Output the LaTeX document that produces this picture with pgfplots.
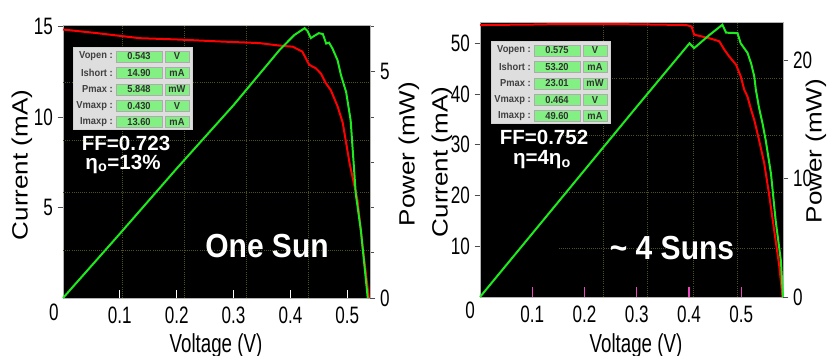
\documentclass[border=0pt]{standalone}
\usepackage{pgfplots}
\pgfplotsset{compat=1.18}
\usepackage{graphicx}
\usepackage{fontspec}
\setmainfont{Liberation Sans}
\newfontfamily\narrowfont{Liberation Sans}[FakeStretch=0.72]
\newfontfamily\annfont{Liberation Sans Bold}[FakeStretch=0.9]
\newfontfamily\ffont{Liberation Sans Bold}
\newfontfamily\tabfont{Liberation Sans Bold}[FakeStretch=0.92]
\definecolor{pvred}{RGB}{255,0,0}
\definecolor{pvgreen}{RGB}{30,235,30}
\definecolor{gridc}{RGB}{80,80,25}
\definecolor{cellg}{RGB}{130,240,130}
\definecolor{panelg}{RGB}{222,222,222}
\definecolor{tickpink}{RGB}{235,70,190}
\newcommand{\tickfont}{\narrowfont\fontsize{17.8}{18}\selectfont}
\pgfplotsset{
  pvbase/.style={scale only axis, anchor=south west,
    axis line style={gray!60, line width=0.6pt},
    tick label style={font=\tickfont, text=black},
    tick align=outside, major tick length=4pt, minor tick length=3pt,
    tick style={black!70, line width=0.6pt},
    clip=false},
}
\newcommand{\pvtable}[3]{%
  \begin{scope}[shift={(#1,#2)}]
    \fill[panelg, draw=gray!35] (0,0) rectangle (119,82);
    \foreach \lab/\val/\uni [count=\i] in {#3} {
      \pgfmathsetmacro\yc{9.5+16.4*(\i-1)}
      \node[anchor=east, font=\tabfont\fontsize{7.6}{8}\selectfont, text=black!75, inner sep=0] at (40,\yc) {\lab\ :};
      \draw[fill=cellg, draw=gray!65] (43,\yc-5.5) rectangle (89,\yc+5.5);
      \node[font=\tabfont\fontsize{7.6}{8}\selectfont, text=black!80, inner sep=0] at (66,\yc) {\val};
      \draw[fill=cellg, draw=gray!65] (92,\yc-5.5) rectangle (116,\yc+5.5);
      \node[font=\tabfont\fontsize{7.6}{8}\selectfont, text=black!80, inner sep=0] at (104,\yc) {\uni};
    }
  \end{scope}}
\begin{document}
\begin{tikzpicture}
\useasboundingbox (0,0) rectangle (621pt,-267pt);
\clip (0,0) rectangle (621pt,-267pt);
\fill[white] (0,0) rectangle (621pt,-267pt);

% ===== Left panel: One Sun =====
\begin{axis}[pvbase, at={(47.25pt,-223.5pt)}, width=230.25pt, height=204.75pt,
  axis background/.style={fill=black},
  xmin=0, xmax=0.54, ymin=0, ymax=15.1,
  xtick={0.1,0.2,0.3,0.4,0.5}, xticklabels={0.1,0.2,0.3,0.4,0.5},
  xtick style={draw=none}, xtick pos=left, ytick pos=left,
  ytick={5,10,15}, yticklabels={5,10,15},
  xticklabel style={yshift=1pt}]
  \pgfplotsinvokeforeach{0.195,0.397,0.599,0.798}
    {\draw[gridc, densely dotted, line width=0.6pt] (rel axis cs:#1,0) -- (rel axis cs:#1,1);}
  \pgfplotsinvokeforeach{0.176,0.385,0.579,0.791}
    {\draw[gridc, densely dotted, line width=0.6pt] (rel axis cs:0,#1) -- (rel axis cs:1,#1);}
  \pgfplotsinvokeforeach{0.1,0.2,0.3,0.4,0.5}{\draw[white, line width=0.9pt] (axis cs:#1,0) -- ++(0,6pt);}
  \addplot[pvred, line width=1.5pt] coordinates {
    (0,14.85)(0.03,14.75)(0.06,14.65)(0.10,14.5)(0.135,14.37)(0.2,14.3)(0.275,14.19)
    (0.345,14.1)(0.381,13.96)(0.404,13.9)(0.421,13.63)(0.433,12.9)(0.445,12.7)
    (0.454,12.4)(0.462,11.9)(0.471,11.5)(0.483,10.6)(0.492,9.7)(0.504,7.47)
    (0.518,5.42)(0.527,2.84)(0.533,1.3)(0.538,0)};
\end{axis}
\begin{axis}[pvbase, at={(47.25pt,-223.5pt)}, width=230.25pt, height=204.75pt,
  xmin=0, xmax=0.54, ymin=0, ymax=6.03,
  axis x line=none, axis y line*=right,
  ytick={0,5}, yticklabels={0,5}, minor ytick={1,2,3,4,6}]
  \addplot[pvgreen, line width=1.5pt] coordinates {
    (0,0)(0.1,1.42)(0.2,2.86)(0.3,4.26)(0.381,5.48)(0.407,5.81)(0.425,5.96)(0.430,5.9)
    (0.436,5.74)(0.442,5.79)(0.450,5.85)(0.457,5.83)(0.463,5.62)(0.468,5.64)(0.474,5.51)
    (0.483,5.25)(0.489,4.92)(0.498,4.55)(0.506,3.92)(0.515,2.3)(0.524,1.49)(0.536,0)};
\end{axis}

% ===== Right panel: ~4 Suns =====
\begin{axis}[pvbase, at={(360pt,-222.75pt)}, width=227.25pt, height=206.25pt,
  axis background/.style={fill=black},
  xmin=0, xmax=0.58, ymin=0, ymax=54.2,
  xtick={0.1,0.2,0.3,0.4,0.5}, xticklabels={0.1,0.2,0.3,0.4,0.5},
  xtick style={draw=none}, xtick pos=left, ytick pos=left,
  ytick={10,20,30,40,50}, yticklabels={10,20,30,40,50},
  xticklabel style={yshift=1pt}]
  \pgfplotsinvokeforeach{0.406,0.554,0.703,0.851}
    {\draw[gridc, densely dotted, line width=0.6pt] (rel axis cs:#1,0) -- (rel axis cs:#1,1);}
  \pgfplotsinvokeforeach{0.178,0.382,0.589,0.796}
    {\draw[gridc, densely dotted, line width=0.6pt] (rel axis cs:0.26,#1) -- (rel axis cs:1,#1);}
  \pgfplotsinvokeforeach{0.1,0.2,0.3,0.4,0.5}{\draw[tickpink, line width=0.9pt] (axis cs:#1,0) -- ++(0,7.5pt);}
  \addplot[pvred, line width=1.5pt] coordinates {
    (0,53.6)(0.1,53.7)(0.15,53.8)(0.25,53.8)(0.33,53.7)(0.395,53.6)(0.405,53.3)
    (0.41,51.7)(0.439,51.0)(0.458,50.4)(0.468,48.7)(0.477,47.4)(0.49,45.8)(0.499,43.5)
    (0.506,40.8)(0.512,39.5)(0.519,36.9)(0.525,34.9)(0.534,31.0)(0.544,26.4)(0.553,20.5)
    (0.563,13.2)(0.573,6.0)(0.579,0)};
\end{axis}
\begin{axis}[pvbase, at={(360pt,-222.75pt)}, width=227.25pt, height=206.25pt,
  xmin=0, xmax=0.58, ymin=0, ymax=23.2,
  axis x line=none, axis y line*=right,
  ytick={0,10,20}, yticklabels={0,10,20}]
  \addplot[pvgreen, line width=1.5pt] coordinates {
    (0,0)(0.1,5.35)(0.2,10.7)(0.3,16.05)(0.401,21.4)(0.41,21.0)(0.439,22.1)(0.464,22.97)
    (0.471,22.3)(0.493,22.26)(0.499,21.4)(0.512,20.6)(0.519,19.7)(0.525,18.6)(0.528,17.5)
    (0.534,16.0)(0.541,14.6)(0.547,13.2)(0.557,10.4)(0.566,6.44)(0.576,3.05)(0.58,0)};
\end{axis}

% ===== annotations (pixel coordinates, y downwards) =====
\begin{scope}[x=0.75pt, y=-0.75pt]
  % axis titles
  \node[rotate=90, font=\fontsize{19.5}{20}\selectfont, inner sep=0] at (22,165) {\scalebox{1}[0.85]{Current (mA)}};
  \node[rotate=90, font=\fontsize{19.5}{20}\selectfont, inner sep=0] at (409,154) {\scalebox{1}[0.85]{Power (mW)}};
  \node[anchor=base, font=\narrowfont\fontsize{19.5}{20}\selectfont, inner sep=0] at (216,352) {Voltage (V)};
  \node[rotate=90, font=\fontsize{19.5}{20}\selectfont, inner sep=0] at (442,162) {\scalebox{1}[0.85]{Current (mA)}};
  \node[rotate=90, font=\fontsize{19.5}{20}\selectfont, inner sep=0] at (816,151) {\scalebox{1}[0.85]{Power (mW)}};
  \node[anchor=base, font=\narrowfont\fontsize{19.5}{20}\selectfont, inner sep=0] at (636,352) {Voltage (V)};
  % origin labels
  \node[font=\tickfont, inner sep=0] at (54,312) {0};
  \node[font=\tickfont, inner sep=0] at (470,310) {0};
  % tables
  \pvtable{73}{47}{Vopen/0.543/V, Ishort/14.90/mA, Pmax/5.848/mW, Vmaxp/0.430/V, Imaxp/13.60/mA}
  \pvtable{491}{41}{Vopen/0.575/V, Ishort/53.20/mA, Pmax/23.01/mW, Vmaxp/0.464/V, Imaxp/49.60/mA}
  % texts
  \node[font=\ffont\fontsize{15.4}{16}\selectfont, text=white, inner sep=0] at (126,143) {FF=0.723};
  \node[font=\ffont\fontsize{15.4}{16}\selectfont, text=white, inner sep=0] at (123,164) {η\textsubscript{o}=13\%};
  \node[font=\annfont\fontsize{25}{26}\selectfont, text=white, inner sep=0] at (267,246) {One Sun};
  \node[font=\ffont\fontsize{15.4}{16}\selectfont, text=white, inner sep=0] at (544,137) {FF=0.752};
  \node[font=\ffont\fontsize{15.4}{16}\selectfont, text=white, inner sep=0] at (542,160) {η=4η\textsubscript{o}};
  \node[font=\annfont\fontsize{25}{26}\selectfont, text=white, inner sep=0] at (672,248) {\textasciitilde{} 4 Suns};
\end{scope}
\end{tikzpicture}
\end{document}
